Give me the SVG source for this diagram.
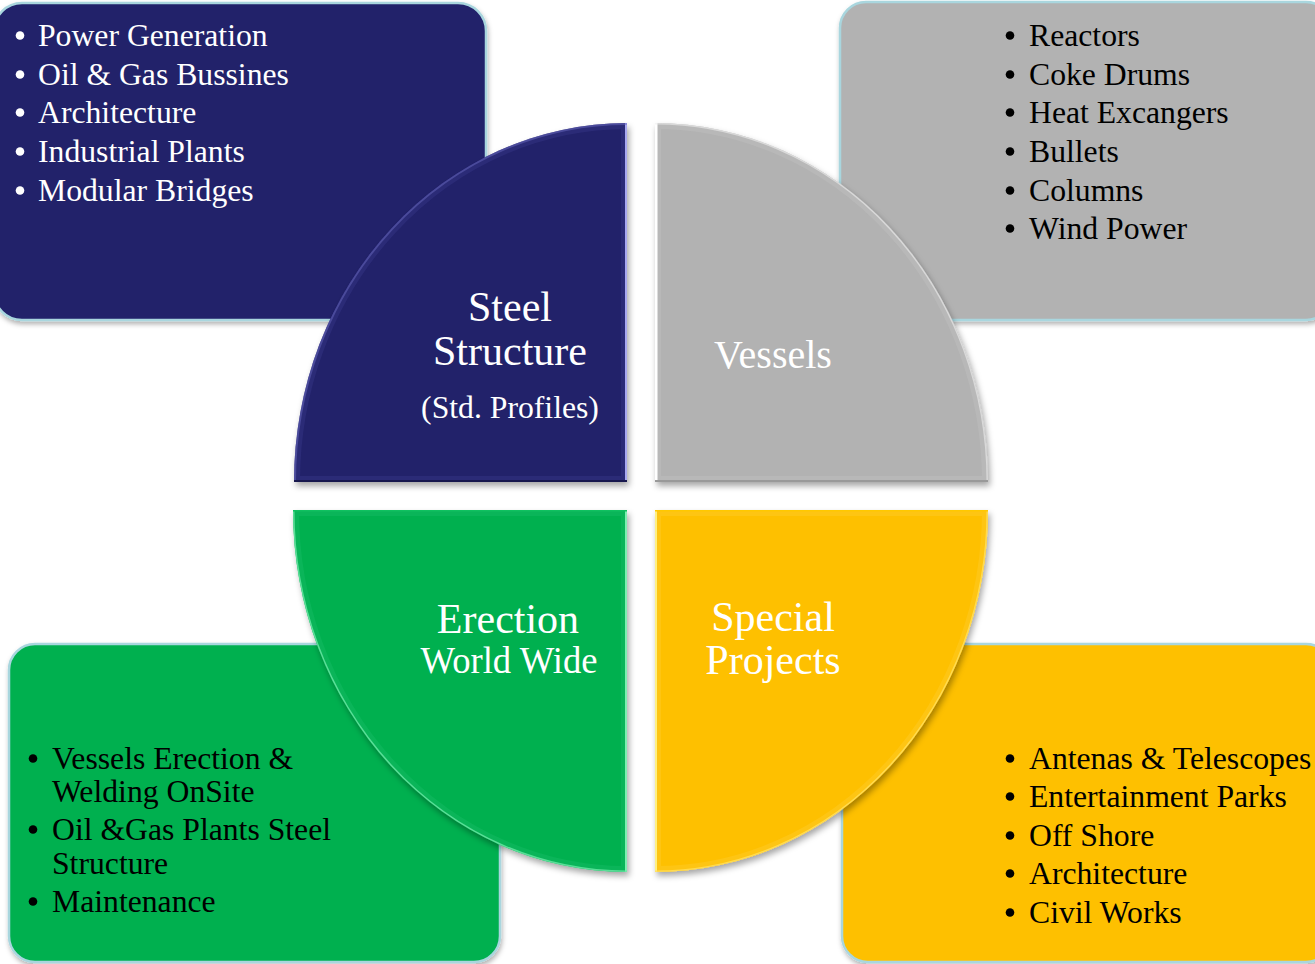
<svg xmlns="http://www.w3.org/2000/svg" width="1315" height="964" viewBox="0 0 1315 964">
<style>
.box{stroke:#A9D6DE;stroke-width:2.5;filter:url(#sh)}
.wedge{filter:url(#sh2)}
.navy{fill:#22216A}
.gray{fill:#B2B2B2}
.green{fill:#00B050}
.yellow{fill:#FEC000}
.t{font-family:"Liberation Serif","Times New Roman",serif;font-size:31.7px}
.w{fill:#FFFFFF}
.k{fill:#000000}
.bw{fill:#FFFFFF}
.bk{fill:#000000}
.lbl{font-family:"Liberation Serif","Times New Roman",serif;fill:#FFFFFF;text-anchor:middle}
</style>
<defs>
<filter id="sh" x="-10%" y="-10%" width="120%" height="125%">
<feDropShadow dx="1" dy="3" stdDeviation="2.5" flood-color="#000" flood-opacity="0.3"/>
</filter>
<filter id="sh2" x="-10%" y="-10%" width="120%" height="120%">
<feDropShadow dx="2" dy="4" stdDeviation="3" flood-color="#000" flood-opacity="0.35"/>
</filter>
<clipPath id="cNavy"><path d="M627,482 H294 A333,359 0 0 1 627,123 Z"/></clipPath>
<clipPath id="cGray"><path d="M655,482 V123 A333,359 0 0 1 988,482 Z"/></clipPath>
<clipPath id="cGreen"><path d="M627,510 V872 A334,362 0 0 1 293,510 Z"/></clipPath>
<clipPath id="cYellow"><path d="M655,510 H988 A333,362 0 0 1 655,872 Z"/></clipPath>
</defs>
<rect width="1315" height="964" fill="#FFFFFF"/>

<g id="box-steel">
<rect class="box navy" x="-6" y="3" width="492" height="317" rx="28"/>
<circle class="bw" cx="20" cy="35.5" r="4.3"/><text class="t w" x="38" y="46">Power Generation</text>
<circle class="bw" cx="20" cy="74.5" r="4.3"/><text class="t w" x="38" y="85">Oil &amp; Gas Bussines</text>
<circle class="bw" cx="20" cy="112.5" r="4.3"/><text class="t w" x="38" y="123">Architecture</text>
<circle class="bw" cx="20" cy="151.5" r="4.3"/><text class="t w" x="38" y="162">Industrial Plants</text>
<circle class="bw" cx="20" cy="190.5" r="4.3"/><text class="t w" x="38" y="201">Modular Bridges</text>
</g>

<g id="box-vessels">
<rect class="box gray" x="840" y="2" width="492" height="318" rx="26"/>
<circle class="bk" cx="1010" cy="35.5" r="4.3"/><text class="t k" x="1029" y="46">Reactors</text>
<circle class="bk" cx="1010" cy="74.5" r="4.3"/><text class="t k" x="1029" y="85">Coke Drums</text>
<circle class="bk" cx="1010" cy="112.5" r="4.3"/><text class="t k" x="1029" y="123">Heat Excangers</text>
<circle class="bk" cx="1010" cy="151.5" r="4.3"/><text class="t k" x="1029" y="162">Bullets</text>
<circle class="bk" cx="1010" cy="190.5" r="4.3"/><text class="t k" x="1029" y="201">Columns</text>
<circle class="bk" cx="1010" cy="228.5" r="4.3"/><text class="t k" x="1029" y="239">Wind Power</text>
</g>

<g id="box-erection">
<rect class="box green" x="9" y="644" width="491" height="318" rx="26"/>
<circle class="bk" cx="33" cy="758.5" r="4.3"/><text class="t k" x="52" y="769">Vessels Erection &amp;</text>
<text class="t k" x="52" y="802">Welding OnSite</text>
<circle class="bk" cx="33" cy="829.5" r="4.3"/><text class="t k" x="52" y="840">Oil &amp;Gas Plants Steel</text>
<text class="t k" x="52" y="874">Structure</text>
<circle class="bk" cx="33" cy="901.5" r="4.3"/><text class="t k" x="52" y="912">Maintenance</text>
</g>

<g id="box-special">
<rect class="box yellow" x="842" y="644" width="490" height="318" rx="26"/>
<circle class="bk" cx="1010" cy="758.5" r="4.3"/><text class="t k" x="1029" y="769">Antenas &amp; Telescopes</text>
<circle class="bk" cx="1010" cy="796.5" r="4.3"/><text class="t k" x="1029" y="807">Entertainment Parks</text>
<circle class="bk" cx="1010" cy="835.5" r="4.3"/><text class="t k" x="1029" y="846">Off Shore</text>
<circle class="bk" cx="1010" cy="873.5" r="4.3"/><text class="t k" x="1029" y="884">Architecture</text>
<circle class="bk" cx="1010" cy="912.5" r="4.3"/><text class="t k" x="1029" y="923">Civil Works</text>
</g>

<g id="node-steel">
<path class="wedge navy" d="M627,482 H294 A333,359 0 0 1 627,123 Z"/>
<g clip-path="url(#cNavy)" fill="none">
<path d="M627,482 H294 A333,359 0 0 1 627,123 Z" stroke="#4848A0" stroke-width="12" opacity="0.25"/>
<path d="M627,123 V482" stroke="#A8A8F0" stroke-width="4"/>
<path d="M294,482 A333,359 0 0 1 627,123" stroke="#6A6AC0" stroke-width="4" opacity="0.5"/>
<path d="M294,482 H627" stroke="#18184E" stroke-width="4"/>
</g>
<text class="lbl" x="510" y="321" font-size="42">Steel</text>
<text class="lbl" x="510" y="365" font-size="42">Structure</text>
<text class="lbl" x="510" y="418" font-size="31.7">(Std. Profiles)</text>
</g>

<g id="node-vessels">
<path class="wedge gray" d="M655,482 V123 A333,359 0 0 1 988,482 Z"/>
<g clip-path="url(#cGray)" fill="none">
<path d="M655,482 V123 A333,359 0 0 1 988,482 Z" stroke="#C8C8C8" stroke-width="12" opacity="0.3"/>
<path d="M655,123 V482" stroke="#FFFFFF" stroke-width="5"/>
<path d="M655,123 A333,359 0 0 1 988,482" stroke="#EEEEEE" stroke-width="3" opacity="0.6"/>
<path d="M655,482 H988" stroke="#999999" stroke-width="4"/>
</g>
<text class="lbl" x="773" y="368" font-size="40">Vessels</text>
</g>

<g id="node-erection">
<path class="wedge green" d="M627,510 V872 A334,362 0 0 1 293,510 Z"/>
<g clip-path="url(#cGreen)" fill="none">
<path d="M627,510 V872 A334,362 0 0 1 293,510 Z" stroke="#20C070" stroke-width="12" opacity="0.3"/>
<path d="M627,510 V872" stroke="#7CF0B0" stroke-width="4"/>
<path d="M627,872 A334,362 0 0 1 293,510" stroke="#6EE8A8" stroke-width="3" opacity="0.8"/>
<path d="M293,510 H627" stroke="#10C060" stroke-width="3"/>
</g>
<text class="lbl" x="508" y="633" font-size="42">Erection</text>
<text class="lbl" x="509" y="673" font-size="38" textLength="177" lengthAdjust="spacingAndGlyphs">World Wide</text>
</g>

<g id="node-special">
<path class="wedge yellow" d="M655,510 H988 A333,362 0 0 1 655,872 Z"/>
<g clip-path="url(#cYellow)" fill="none">
<path d="M655,510 H988 A333,362 0 0 1 655,872 Z" stroke="#FFD040" stroke-width="12" opacity="0.3"/>
<path d="M655,510 V872" stroke="#FFF080" stroke-width="4"/>
<path d="M988,510 A333,362 0 0 1 655,872" stroke="#FFE060" stroke-width="3" opacity="0.8"/>
<path d="M655,510 H988" stroke="#FFC800" stroke-width="3"/>
</g>
<text class="lbl" x="773" y="631" font-size="42">Special</text>
<text class="lbl" x="773" y="674" font-size="42">Projects</text>
</g>

<g id="connectors"></g>
</svg>
